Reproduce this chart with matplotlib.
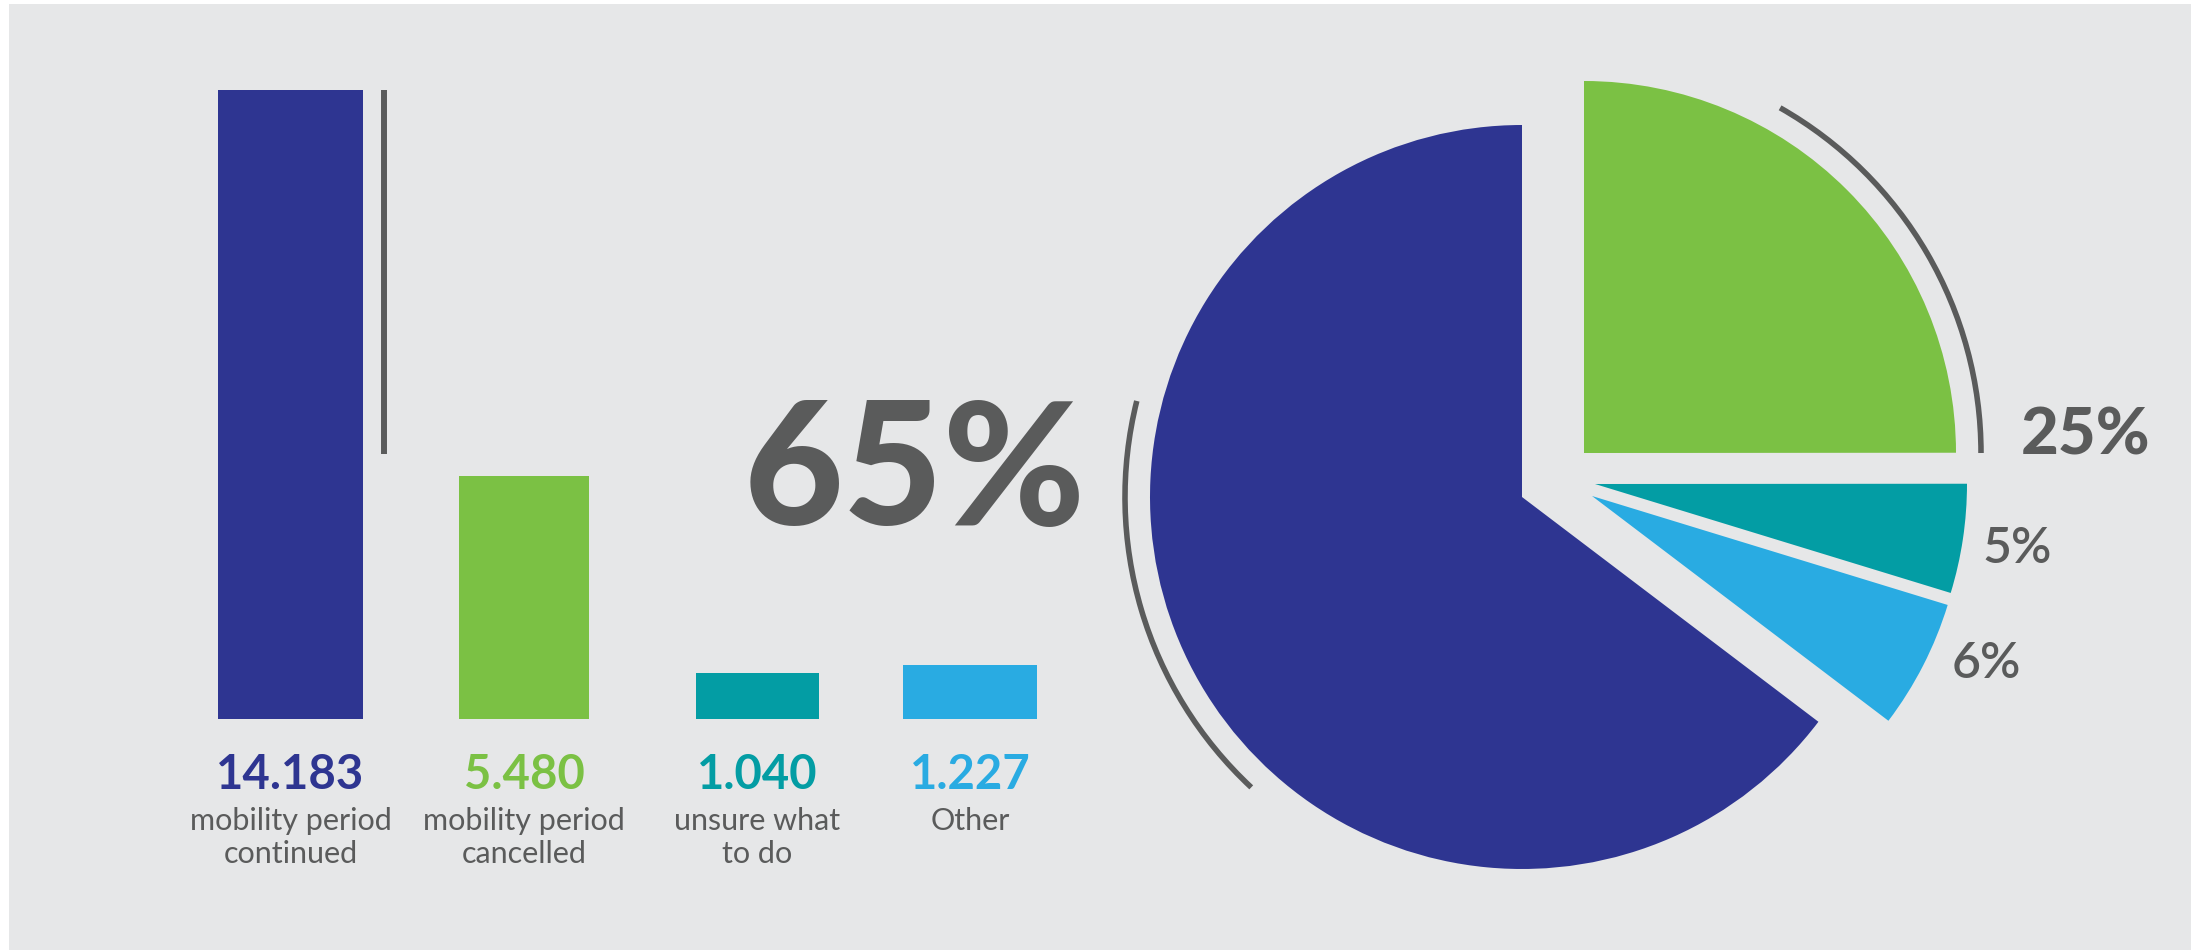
import numpy as np
import matplotlib
matplotlib.use("Agg")
import matplotlib.pyplot as plt
from matplotlib.patches import Arc, Rectangle

plt.rcParams['font.family'] = ['Lato', 'DejaVu Sans']

# data
categories = ["mobility period\ncontinued", "mobility period\ncancelled", "unsure what\nto do", "Other"]
values = [14183, 5480, 1040, 1227]
value_labels = ["14.183", "5.480", "1.040", "1.227"]
pct_labels = ["65%", "25%", "5%", "6%"]

colors = ["#2e3591", "#7bc144", "#039da4", "#29abe2"]
grey = "#5a5b5b"
bg = "#e6e7e8"

W, H = 2191, 950
fig = plt.figure(figsize=(W / 100, H / 100), dpi=100)
fig.patch.set_facecolor("white")
fig.patches.append(Rectangle((9 / W, 0), 1, 1 - 4 / H, transform=fig.transFigure,
                             facecolor=bg, edgecolor="none", zorder=-10))

# ---- bars ----
ax = fig.add_axes([173.75 / W, 231 / H, 934 / W, 665.2 / H])
ax.set_xlim(-0.5, 3.5)
ax.set_ylim(0, 15000)
ax.axis("off")
bar_x = [0, 1, 2, 2.91]
bar_w = [0.62, 0.557, 0.531, 0.574]
ax.bar(bar_x, values, width=bar_w, color=colors)

# grey marker line next to the tall bar
ax.plot([0.40, 0.40], [5975, values[0]], color=grey, lw=4.3, solid_capstyle="butt")

for i in range(len(values)):
    ax.annotate(value_labels[i], xy=(bar_x[i], 0), xytext=(0, -70), textcoords="offset pixels",
                ha="center", va="baseline", fontsize=34, fontweight="bold", color=colors[i])
    ax.annotate(categories[i], xy=(bar_x[i], 0), xytext=(0, -88), textcoords="offset pixels",
                ha="center", va="top", fontsize=22, color=grey, linespacing=1.2)

fig.text(1086 / W, 1 - 525 / H, pct_labels[0], ha="right", va="baseline",
         fontsize=124, fontweight="black", color=grey)

# ---- pie ----
R = 372.0
half = 450.0
cx, cy = 1522.0, 497.0
pax = fig.add_axes([(cx - half) / W, (H - cy - half) / H, 2 * half / W, 2 * half / H])
order = [0, 3, 2, 1]
wedges, _ = pax.pie([values[i] for i in order], colors=[colors[i] for i in order],
                    startangle=90, counterclock=True, radius=1,
                    wedgeprops=dict(linewidth=0))
# shift the small slices out (px offsets)
shifts = {1: (62, 44), 2: (73, 13), 3: (70, 1)}
for w, i in zip(wedges, order):
    if i in shifts:
        dx, dy = shifts[i]
        w.set_center((dx / R, dy / R))
pax.set_xlim(-half / R, half / R)
pax.set_ylim(-half / R, half / R)
pax.set_aspect("equal")
pax.axis("off")

ra = 2 * 397 / R
pax.add_patch(Arc((0, 0), ra, ra, theta1=166, theta2=227, color=grey, lw=4, clip_on=False))
gx, gy = shifts[1][0] / R, shifts[1][1] / R
pax.add_patch(Arc((gx, gy), ra, ra, theta1=0, theta2=60.4, color=grey, lw=4, clip_on=False))

pax.text(1.341, 0.113, pct_labels[1], ha="left", va="baseline", fontsize=47,
         fontweight="black", color=grey, clip_on=False)
pax.text(1.239, -0.177, pct_labels[2], ha="left", va="baseline", fontsize=36,
         fontweight="semibold", color=grey, clip_on=False)
pax.text(1.156, -0.487, pct_labels[3], ha="left", va="baseline", fontsize=36,
         fontweight="semibold", color=grey, clip_on=False)

fig.savefig("out.png", dpi=100, facecolor=fig.get_facecolor())
